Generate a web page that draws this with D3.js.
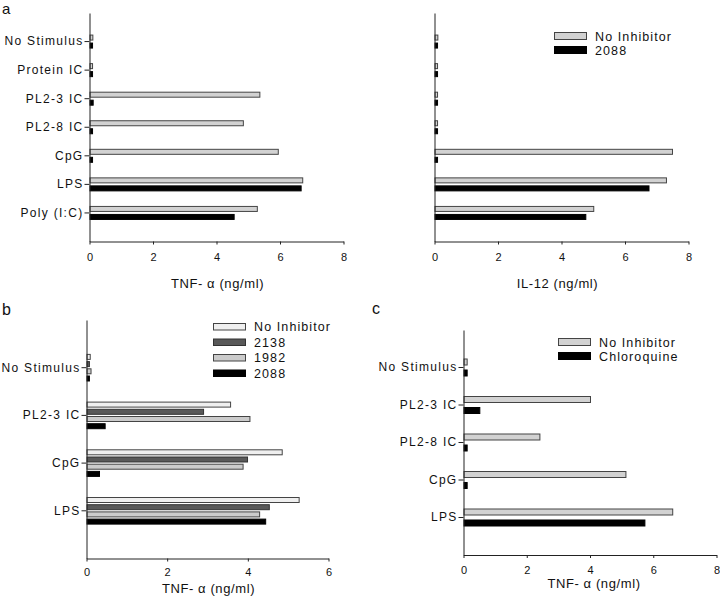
<!DOCTYPE html>
<html>
<head>
<meta charset="utf-8">
<script src="https://cdn.jsdelivr.net/npm/d3@7"></script>
<style>
  html, body { margin: 0; padding: 0; background: #fff; }
  svg { display: block; }
  text { font-family: "Liberation Sans", Arial, sans-serif; fill: #111; }
</style>
</head>
<body>
<svg id="chart" width="720" height="596"></svg>
<script>
// ---------- data ----------
const catsA = ["No Stimulus", "Protein IC", "PL2-3 IC", "PL2-8 IC", "CpG", "LPS", "Poly (I:C)"];
const tnfNoInhibitorA = [0.09, 0.08, 5.35, 4.83, 5.93, 6.70, 5.27];
const tnf2088A        = [0.08, 0.08, 0.10, 0.08, 0.08, 6.65, 4.54];
const il12NoInhibitor = [0.09, 0.08, 0.08, 0.08, 7.48, 7.29, 5.00];
const il12_2088       = [0.08, 0.08, 0.08, 0.08, 0.08, 6.74, 4.75];

const catsB = ["No Stimulus", "PL2-3 IC", "CpG", "LPS"];
const tnfNoInhibitorB = [0.08, 3.56, 4.84, 5.26];
const tnf2138B        = [0.06, 2.89, 3.98, 4.52];
const tnf1982B        = [0.10, 4.04, 3.87, 4.28];
const tnf2088B        = [0.06, 0.45, 0.31, 4.43];

const catsC = ["No Stimulus", "PL2-3 IC", "PL2-8 IC", "CpG", "LPS"];
const tnfNoInhibitorC = [0.10, 4.00, 2.40, 5.12, 6.60];
const tnfChloroquineC = [0.10, 0.50, 0.10, 0.10, 5.72];

const ticksA = [0, 2, 4, 6, 8];
const ticksB = [0, 2, 4, 6];
const ticksC = [0, 2, 4, 6, 8];

const seriesNamesA = ["No Inhibitor", "2088"];
const seriesNamesB = ["No Inhibitor", "2138", "1982", "2088"];
const seriesNamesC = ["No Inhibitor", "Chloroquine"];

// ---------- drawing ----------
const svg = d3.select("#chart");

function panel(cfg) {
  const g = svg.append("g");
  const x = d3.scaleLinear().domain([0, cfg.xMax]).range([cfg.x0, cfg.x1]);
  const y = d3.scaleBand().domain(cfg.cats).range([cfg.yTop, cfg.yBottom])
    .paddingOuter(0.5).paddingInner(0);
  const inner = d3.scaleBand().domain(cfg.names)
    .range([-cfg.pitch * cfg.names.length / 2, cfg.pitch * cfg.names.length / 2])
    .paddingInner(1 - cfg.barH / cfg.pitch).paddingOuter((1 - cfg.barH / cfg.pitch) / 2);

  // bars
  cfg.series.forEach((vals, si) => {
    const name = cfg.names[si];
    g.append("g").selectAll("rect").data(vals).join("rect")
      .attr("x", x(0) + 0.5)
      .attr("y", (d, i) => y(cfg.cats[i]) + y.bandwidth() / 2 + inner(name))
      .attr("width", d => Math.max(0, x(d) - x(0)))
      .attr("height", inner.bandwidth())
      .attr("fill", cfg.colors[si])
      .attr("stroke", cfg.strokes[si])
      .attr("stroke-width", 1);
  });

  // x axis
  const xAxis = d3.axisBottom(x).tickValues(cfg.ticks).tickFormat(d3.format("d"))
    .tickSizeInner(3).tickSizeOuter(0).tickPadding(cfg.tickPad);
  const xg = g.append("g").attr("transform", `translate(0,${cfg.yBottom})`).call(xAxis);
  xg.select(".domain").attr("stroke", "#222");
  xg.selectAll(".tick line").attr("stroke", "#222");
  xg.selectAll(".tick text").attr("font-size", 11)
    .style("font-family", "'Liberation Sans', Arial, sans-serif").attr("fill", "#111");

  // y axis
  const yAxis = d3.axisLeft(y).tickSizeInner(cfg.showLabels ? 5 : 0).tickSizeOuter(0).tickPadding(1)
    .tickFormat(cfg.showLabels ? (d => d) : (() => ""));
  const yg = g.append("g").attr("transform", `translate(${cfg.x0},0)`).call(yAxis);
  yg.select(".domain").attr("stroke", "#222");
  yg.selectAll(".tick line").attr("stroke", "#222");
  yg.selectAll(".tick text").attr("font-size", 12).attr("letter-spacing", "1.3px")
    .style("font-family", "'Liberation Sans', Arial, sans-serif").attr("fill", "#111");

  // axis title
  g.append("text")
    .attr("x", (cfg.x0 + cfg.x1) / 2 + cfg.titleDx)
    .attr("y", cfg.titleY)
    .attr("text-anchor", "middle")
    .attr("dominant-baseline", "central")
    .attr("font-size", 13)
    .attr("letter-spacing", "0.6px")
    .text(cfg.title);

  // legend
  if (cfg.legend) {
    const L = cfg.legend;
    const lg = g.append("g").attr("transform", `translate(${L.x},${L.y})`);
    cfg.names.forEach((n, i) => {
      const row = lg.append("g").attr("transform", `translate(0,${i * L.step})`);
      row.append("rect").attr("x", 0.5).attr("y", 0.5).attr("width", 32).attr("height", L.boxH)
        .attr("fill", cfg.colors[i]).attr("stroke", cfg.strokes[i]);
      row.append("text").attr("x", 41).attr("y", L.boxH / 2 + 1)
        .attr("dominant-baseline", "central")
        .attr("font-size", 12.5).attr("letter-spacing", "1.1px").text(n);
    });
  }
}

// panel a (left)
panel({
  cats: catsA, names: seriesNamesA, series: [tnfNoInhibitorA, tnf2088A],
  colors: ["#d2d2d2", "#000"], strokes: ["#444", "#000"],
  xMax: 8, ticks: ticksA, x0: 89.5, x1: 343.5, yTop: 13, yBottom: 241.5,
  pitch: 8, barH: 5, tickPad: 9, showLabels: true,
  title: "TNF- \u03b1 (ng/ml)", titleY: 283, titleDx: 1
});
// panel a (right)
panel({
  cats: catsA, names: seriesNamesA, series: [il12NoInhibitor, il12_2088],
  colors: ["#d2d2d2", "#000"], strokes: ["#444", "#000"],
  xMax: 8, ticks: ticksA, x0: 434.5, x1: 688.5, yTop: 13, yBottom: 241.5,
  pitch: 8, barH: 5, tickPad: 9, showLabels: false,
  title: "IL-12 (ng/ml)", titleY: 283, titleDx: -4,
  legend: { x: 554, y: 32, step: 14, boxH: 7 }
});
// panel b
panel({
  cats: catsB, names: seriesNamesB, series: [tnfNoInhibitorB, tnf2138B, tnf1982B, tnf2088B],
  colors: ["#efefef", "#595959", "#cbcbcb", "#000"], strokes: ["#444", "#333", "#444", "#000"],
  xMax: 6, ticks: ticksB, x0: 86.5, x1: 328.5, yTop: 320, yBottom: 558.5,
  pitch: 7.2, barH: 5, tickPad: 7, showLabels: true,
  title: "TNF- \u03b1 (ng/ml)", titleY: 588, titleDx: 1,
  legend: { x: 213, y: 323, step: 15.5, boxH: 6.5 }
});
// panel c
panel({
  cats: catsC, names: seriesNamesC, series: [tnfNoInhibitorC, tnfChloroquineC],
  colors: ["#d2d2d2", "#000"], strokes: ["#444", "#000"],
  xMax: 8, ticks: ticksC, x0: 463.5, x1: 716.5, yTop: 330, yBottom: 555,
  pitch: 11, barH: 6, tickPad: 8, showLabels: true,
  title: "TNF- \u03b1 (ng/ml)", titleY: 583, titleDx: 4,
  legend: { x: 558, y: 338, step: 14, boxH: 7 }
});

// panel letters
svg.append("text").attr("x", 2).attr("y", 14).attr("font-size", 15).text("a");
svg.append("text").attr("x", 2).attr("y", 315).attr("font-size", 16).text("b");
svg.append("text").attr("x", 372).attr("y", 314).attr("font-size", 16).text("c");
</script>
</body>
</html>
